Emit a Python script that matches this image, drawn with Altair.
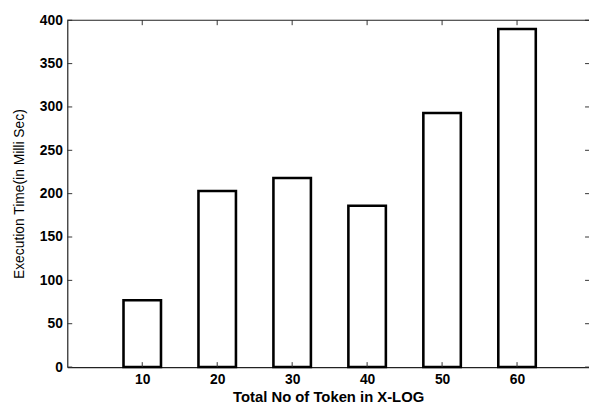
import altair as alt
import pandas as pd

categories = [10, 20, 30, 40, 50, 60]
positions = [1, 2, 3, 4, 5, 6]
exec_time = [77, 203, 218, 186, 293, 390]
y_ticks = [0, 50, 100, 150, 200, 250, 300, 350, 400]

W = 528
H = 351
XMAX = 6.96
FONT = "Liberation Sans"

bars_df = pd.DataFrame({"pos": positions, "cat": categories, "time": exec_time})
yt_df = pd.DataFrame({"v": y_ticks})
xt_df = pd.DataFrame({"p": positions})

xscale = alt.Scale(domain=[0, XMAX], nice=False, zero=False)
yscale = alt.Scale(domain=[0, 400], nice=False)

bars = alt.Chart(bars_df).transform_calculate(
    x0="datum.pos - 0.25", x1="datum.pos + 0.25"
).mark_bar(fill="white", stroke="black", strokeWidth=2.6).encode(
    x=alt.X("x0:Q", scale=xscale,
            axis=alt.Axis(values=positions, labelExpr="datum.value * 10",
                          title="Total No of Token in X-LOG", ticks=False,
                          grid=False, domainColor="#222", domainWidth=1.2,
                          labelPadding=6, titlePadding=3, labelFlush=False,
                          titleFontSize=15, titleFontWeight="bold")),
    x2="x1:Q",
    y=alt.Y("time:Q", scale=yscale,
            axis=alt.Axis(values=y_ticks, title="Execution Time(in Milli Sec)",
                          ticks=False, grid=False, domainColor="#222",
                          domainWidth=1.2, labelPadding=5, titlePadding=13,
                          labelFlush=False, titleFontSize=14,
                          titleFontWeight="normal")),
    y2=alt.datum(0),
)

yt_left = alt.Chart(yt_df).mark_rule(color="#333", strokeWidth=1).encode(
    y=alt.Y("v:Q", scale=yscale), x=alt.value(0), x2=alt.value(5))
yt_right = alt.Chart(yt_df).mark_rule(color="#333", strokeWidth=1).encode(
    y=alt.Y("v:Q", scale=yscale), x=alt.value(W - 4), x2=alt.value(W))
xt_top = alt.Chart(xt_df).mark_rule(color="#333", strokeWidth=1).encode(
    x=alt.X("p:Q", scale=xscale), y=alt.value(0), y2=alt.value(5))
xt_bot = alt.Chart(xt_df).mark_rule(color="#333", strokeWidth=1).encode(
    x=alt.X("p:Q", scale=xscale), y=alt.value(H - 5), y2=alt.value(H))
top_line = alt.Chart(xt_df.head(1)).mark_rule(color="#222", strokeWidth=1.2).encode(
    x=alt.value(0), x2=alt.value(W), y=alt.value(0))

chart = alt.layer(bars, yt_left, yt_right, xt_top, xt_bot, top_line).properties(
    width=W, height=H,
    autosize=alt.AutoSizeParams(type="none"),
    padding={"left": 60, "top": 10, "right": 0, "bottom": 36},
).configure(background="white").configure_view(stroke=None).configure_axis(
    labelFont=FONT, titleFont=FONT, labelFontSize=14,
    labelColor="black", titleColor="black",
    labelFontWeight="bold",
)

chart.save("out.html", embed_options={"renderer": "svg", "actions": False})
